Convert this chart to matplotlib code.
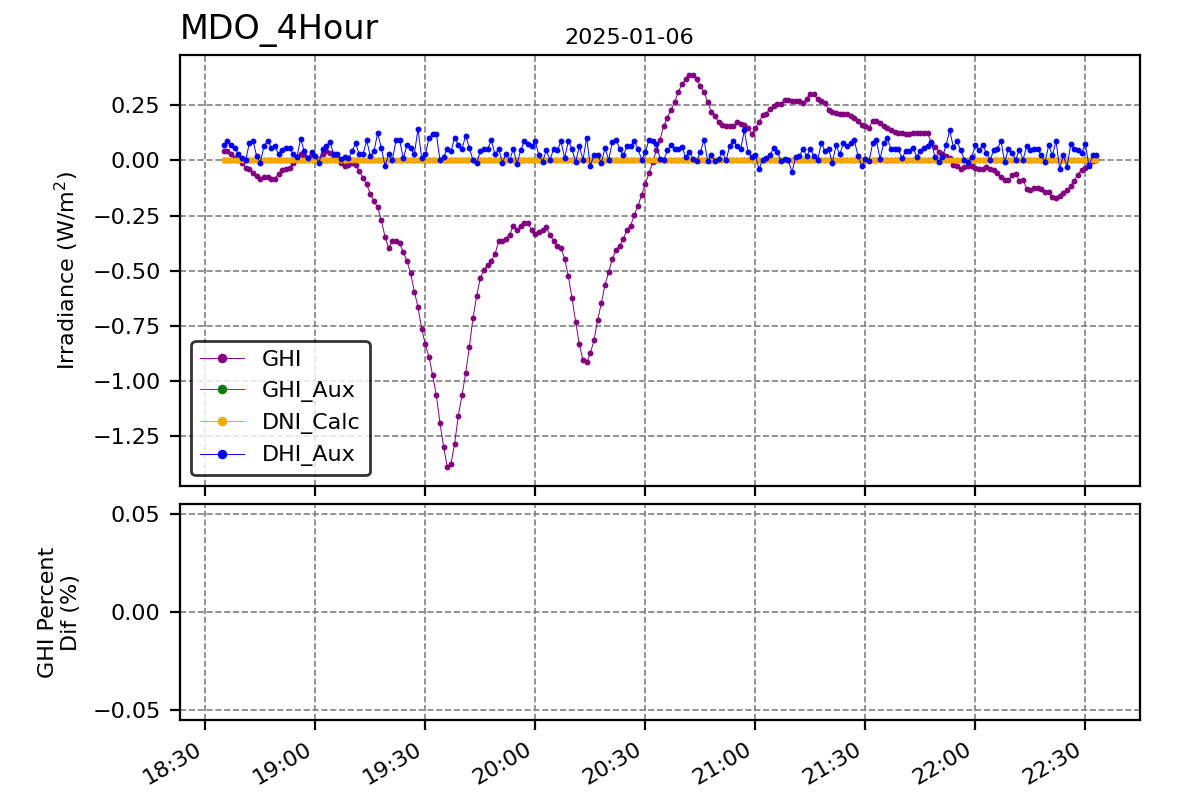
import pandas as pd
import matplotlib
matplotlib.use('Agg')
import matplotlib.pyplot as plt
import matplotlib.dates as mdates

station = "MDO_4Hour"
day = "2025-01-06"
start_time = "2025-01-06 18:35"

# GHI readings, one per minute from 18:35
ghi = [0.042, 0.042, 0.027, 0.012, 0.005, -0.011, -0.033, -0.041, -0.056, -0.071,
       -0.082, -0.074, -0.074, -0.082, -0.082, -0.061, -0.044, -0.041, -0.033, -0.011,
       0.012, 0.027, 0.02, 0.012, 0.017, 0.008, 0.008, 0.027, 0.042, 0.035,
       0.02, 0.005, -0.011, -0.026, -0.02, -0.012, -0.023, -0.048,
       # 19:13
       -0.079, -0.109, -0.15, -0.186, -0.212, -0.27, -0.345, -0.397, -0.367, -0.364,
       -0.374, -0.417, -0.455, -0.512, -0.594, -0.664, -0.762, -0.833, -0.891, -0.973,
       -1.064, -1.189, -1.3, -1.388, -1.374, -1.283, -1.156, -1.064, -0.965, -0.845,
       -0.715, -0.614, -0.533, -0.495, -0.474, -0.455, -0.424, -0.367, -0.364, -0.356,
       -0.336, -0.295, -0.315, -0.295, -0.285, -0.285, -0.315,
       # 20:00
       -0.335, -0.326, -0.315, -0.303, -0.338, -0.364, -0.386, -0.397, -0.447, -0.523,
       -0.624, -0.732, -0.833, -0.906, -0.915, -0.874, -0.815, -0.723, -0.647, -0.565,
       -0.505, -0.447, -0.406, -0.386, -0.356, -0.315, -0.295, -0.247, -0.205, -0.155,
       # 20:30
       -0.106, -0.058, -0.008, 0.045, 0.094, 0.155, 0.194, 0.23, 0.265, 0.311,
       0.345, 0.368, 0.388, 0.386, 0.368, 0.336, 0.311, 0.265, 0.22, 0.2,
       0.174, 0.162, 0.155, 0.155, 0.155, 0.174, 0.164, 0.16, 0.145, 0.121,
       0.145, 0.174, 0.205, 0.212, 0.235, 0.245, 0.255, 0.255, 0.276, 0.273,
       # 21:10
       0.27, 0.267, 0.267, 0.259, 0.28, 0.3, 0.3, 0.277, 0.27, 0.259,
       0.229, 0.22, 0.217, 0.209, 0.209, 0.209, 0.2, 0.194, 0.179, 0.159,
       0.156, 0.148, 0.179, 0.179, 0.171, 0.156, 0.148, 0.138, 0.129, 0.126,
       0.126, 0.118, 0.118, 0.126, 0.123, 0.123, 0.123, 0.123,
       # 21:48
       0.08, 0.06, 0.04, 0.028, 0.018, 0.01, -0.02, -0.027, -0.038, -0.03,
       -0.027, -0.027, -0.033, -0.038, -0.038, -0.03, -0.038, -0.045, -0.058, -0.073,
       -0.088, -0.088, -0.068, -0.061, -0.091, -0.088, -0.129, -0.136, -0.124, -0.124,
       -0.129, -0.144, -0.144, -0.167, -0.17, -0.159, -0.148, -0.136, -0.114, -0.091,
       -0.064, -0.042, -0.033, -0.015, -0.003, 0.008]

# DHI_Aux readings, same minutes
dhi_aux = [0.07, 0.09, 0.068, 0.058, 0.027, 0.011, 0.0, 0.077, 0.09, 0.02,
           -0.01, 0.065, 0.09, 0.058, 0.065, 0.027, 0.048, 0.058, 0.058, 0.027,
           0.017, 0.098, 0.041, 0.009, 0.04, 0.018, -0.01, 0.05, 0.065, 0.085,
           0.027, 0.027, 0.008, 0.017, 0.009, 0.041,
           # 19:11
           0.077, 0.027, 0.027, 0.091, 0.02, 0.042, 0.123, 0.058, -0.026, 0.027,
           0.0, 0.091, 0.091, 0.009, 0.07, 0.058, 0.027, 0.144, 0.009, 0.027,
           0.1, 0.121, 0.121, 0.0, 0.017, 0.053, 0.042, 0.103, 0.07, 0.053,
           0.111, 0.058, 0.0, -0.011, 0.042, 0.053, 0.053, 0.091, 0.027, 0.053,
           -0.011,
           # 19:52
           0.03, 0.0, 0.053, -0.015, 0.045, 0.088, 0.076, 0.064,
           0.086, 0.023, -0.005, 0.045, 0.003, 0.053, 0.045, 0.086, 0.011, 0.086,
           0.053, -0.008, 0.064, 0.003, 0.103, -0.027, 0.026, 0.026, -0.012, 0.056,
           0.003, 0.083, 0.094, 0.053, 0.023, 0.064, 0.065, 0.086, 0.053, 0.003,
           # 20:30
           0.038, 0.094, 0.088, 0.073, 0.008, 0.0, 0.045, 0.068, 0.053, 0.053,
           0.061, 0.015, 0.038, 0.008, -0.003, 0.038, 0.094, -0.003, 0.023, -0.003,
           0.008, 0.038, 0.0, 0.064, 0.088, 0.064, 0.053, 0.136, 0.038, 0.015,
           0.023, -0.038, 0.003, 0.012, 0.023, 0.058, 0.038, -0.003, 0.008, 0.0,
           # 21:10
           -0.053, 0.017, 0.02, 0.05, 0.02, 0.05, 0.02, 0.002, 0.08, 0.042,
           0.05, -0.011, 0.068, 0.027, 0.077, 0.065, 0.077, 0.091, 0.02, -0.026,
           0.005, -0.003, 0.077, 0.091, 0.008, 0.077, 0.1, 0.05, 0.05, 0.05,
           0.009, 0.042, 0.042, 0.058, 0.017, 0.042, 0.058, 0.065,
           # 21:48
           0.083, 0.015, -0.008, 0.015, 0.068, 0.136, 0.061, 0.088, 0.045, 0.003,
           -0.008, 0.015, 0.068, 0.048, 0.068, 0.035, 0.003, 0.045, 0.053, 0.088,
           -0.008, 0.053, 0.035, 0.003, 0.048, 0.003, 0.064, 0.048, 0.053, 0.053,
           0.023, -0.008, 0.068, 0.023, 0.088, -0.038, 0.023, -0.03, 0.073, 0.053,
           0.045, 0.035, 0.073, -0.027, 0.023, 0.023]

# GHI_Aux and DNI_Calc sit at zero the whole window
ghi_aux = [0.0] * len(ghi)
dni_calc = [0.0] * len(ghi)

times = pd.date_range(start_time, periods=len(ghi), freq='min')

df = pd.DataFrame({'GHI': ghi, 'GHI_Aux': ghi_aux,
                   'DNI_Calc': dni_calc, 'DHI_Aux': dhi_aux}, index=times)

colors = {'GHI': 'purple', 'GHI_Aux': 'green', 'DNI_Calc': 'orange', 'DHI_Aux': 'blue'}

fig, (ax, ax2) = plt.subplots(2, 1, figsize=(6, 4), dpi=200, sharex=True,
                              gridspec_kw={'height_ratios': [2, 1]})
fig.subplots_adjust(left=0.15, right=0.95, top=0.931, bottom=0.1, hspace=0.056)

# Irradiance lines
for column in df.columns:
    ax.plot(df.index, df[column], color=colors[column], linewidth=0.35,
            marker='o', markersize=1.1, label=column)

ax.set_ylabel('Irradiance (W/m$^2$)', fontsize=8)
ax.tick_params(labelsize=8)
ax.grid(True, linestyle='--', color='gray', linewidth=0.6)
ax.legend(loc='lower left', fontsize=8, markerscale=2.2,
          edgecolor='black', framealpha=0.8).get_frame().set_linewidth(1.0)
ax.set_title(station, loc='left', fontsize=12)
fig.text(0.524, 0.945, day, ha='center', va='baseline', fontsize=8)

# Percent difference panel (no valid points in this window)
ax2.set_ylim(-0.055, 0.055)
ax2.set_yticks([-0.05, 0.0, 0.05])
ax2.set_ylabel('GHI Percent\nDif (%)', fontsize=8)
ax2.tick_params(labelsize=8)
ax2.grid(True, linestyle='--', color='gray', linewidth=0.6)

ax2.xaxis.set_major_locator(mdates.MinuteLocator(byminute=[0, 30]))
ax2.xaxis.set_major_formatter(mdates.DateFormatter('%H:%M'))
for label in ax2.get_xticklabels():
    label.set_rotation(30)
    label.set_horizontalalignment('right')

plt.savefig('out.png', dpi=200)
